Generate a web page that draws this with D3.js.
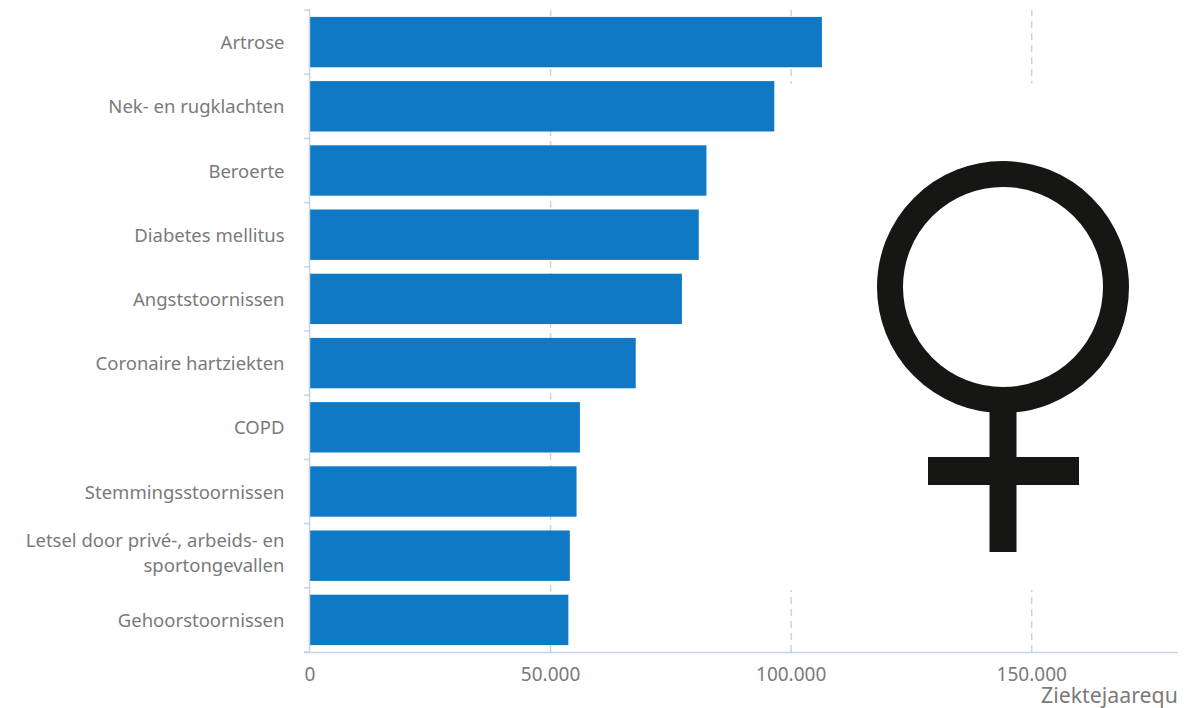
<!DOCTYPE html>
<html lang="nl">
<head>
<meta charset="utf-8">
<title>Ziektelast vrouwen</title>
<script src="https://cdn.jsdelivr.net/npm/d3@7/dist/d3.min.js"></script>
<style>
  html, body { margin: 0; padding: 0; background: #fff; overflow: hidden; }
  svg { display: block; }
  text { font-family: "Noto Sans", "Open Sans", sans-serif; fill: #7a7a7a; }
</style>
</head>
<body>
<svg id="chart" width="1184" height="708"></svg>
<script>
// Ziektejaarequivalenten per aandoening, vrouwen
const categories = [
  "Artrose",
  "Nek- en rugklachten",
  "Beroerte",
  "Diabetes mellitus",
  "Angststoornissen",
  "Coronaire hartziekten",
  "COPD",
  "Stemmingsstoornissen",
  "Letsel door privé-, arbeids- en sportongevallen",
  "Gehoorstoornissen"
];
const values = [106500, 96600, 82500, 80900, 77400, 67800, 56200, 55500, 54100, 53800];
const xTicks = [0, 50000, 100000, 150000];
const xTitle = "Ziektejaarequ";

const svg = d3.select("#chart");
const plotLeft = 309.5, plotRight = 1178, plotTop = 10, plotBottom = 652;
const axisColor = "#c4d4e8";

const nl = d3.formatLocale({ decimal: ",", thousands: ".", grouping: [3], currency: ["€", ""] });
const x = d3.scaleLinear().domain([0, 180500]).range([plotLeft, plotRight]);
const y = d3.scaleBand().domain(categories).range([plotTop, plotBottom]).paddingInner(0.215).paddingOuter(0.1075);

// Gestippelde rasterlijnen
svg.append("g")
  .attr("transform", `translate(0,${plotBottom})`)
  .call(d3.axisBottom(x).tickValues(xTicks.slice(1)).tickSize(-(plotBottom - plotTop)).tickFormat(""))
  .call(g => g.select(".domain").remove())
  .call(g => g.selectAll("line")
    .attr("stroke", axisColor).attr("stroke-width", 1.5).attr("stroke-dasharray", "7 5"));

// Witvlak achter het symbool
svg.append("rect")
  .attr("x", 776).attr("y", 83.5).attr("width", 408).attr("height", 506.5).attr("fill", "#fff");

// Staven
svg.append("g").selectAll("rect")
  .data(categories)
  .join("rect")
  .attr("x", x(0))
  .attr("y", d => y(d))
  .attr("width", (d, i) => x(values[i]) - x(0))
  .attr("height", y.bandwidth())
  .attr("fill", "#0f79c6");

// Horizontale as met waarden
const xAxis = svg.append("g")
  .attr("transform", `translate(0,${plotBottom})`)
  .call(d3.axisBottom(x).tickValues(xTicks).tickSize(0).tickPadding(15.5).tickFormat(nl.format(",")));
xAxis.select(".domain").remove();
xAxis.selectAll("text").attr("font-size", 19);
svg.append("line")
  .attr("x1", 304).attr("x2", plotRight).attr("y1", plotBottom + 0.5).attr("y2", plotBottom + 0.5)
  .attr("stroke", axisColor).attr("stroke-width", 1.5);

// Verticale as met streepjes op de bandgrenzen
svg.append("line")
  .attr("x1", plotLeft).attr("x2", plotLeft).attr("y1", plotTop - 1).attr("y2", plotBottom)
  .attr("stroke", axisColor).attr("stroke-width", 1.5);
svg.append("g").selectAll("line")
  .data(d3.range(categories.length + 1))
  .join("line")
  .attr("x1", 304).attr("x2", plotLeft)
  .attr("y1", i => plotTop + i * y.step())
  .attr("y2", i => plotTop + i * y.step())
  .attr("stroke", axisColor).attr("stroke-width", 1.5);

// Categorielabels, lange namen over twee regels
const yAxis = svg.append("g")
  .attr("transform", `translate(${plotLeft},0)`)
  .call(d3.axisLeft(y).tickSize(0).tickPadding(25));
yAxis.select(".domain").remove();
yAxis.selectAll("text")
  .attr("font-size", 18.5)
  .attr("dy", "0.38em")
  .each(function (d) {
    const t = d3.select(this);
    const words = d.split(" ");
    if (words.length < 6) return;
    const lines = [words.slice(0, -1).join(" "), words[words.length - 1]];
    t.text(null);
    lines.forEach((line, i) => {
      t.append("tspan").attr("x", -25).attr("dy", i ? 25.5 : -9).text(line);
    });
  });

// Astitel
svg.append("text")
  .attr("x", 1041).attr("y", 703)
  .attr("font-size", 21.3)
  .text(xTitle);

// Venussymbool
const symbol = svg.append("g").attr("fill", "#161614");
symbol.append("circle")
  .attr("cx", 1003).attr("cy", 287).attr("r", 113)
  .attr("fill", "none").attr("stroke", "#161614").attr("stroke-width", 26);
symbol.append("rect").attr("x", 989.5).attr("y", 405).attr("width", 27).attr("height", 147);
symbol.append("rect").attr("x", 928).attr("y", 457).attr("width", 151).attr("height", 28);
</script>
</body>
</html>
